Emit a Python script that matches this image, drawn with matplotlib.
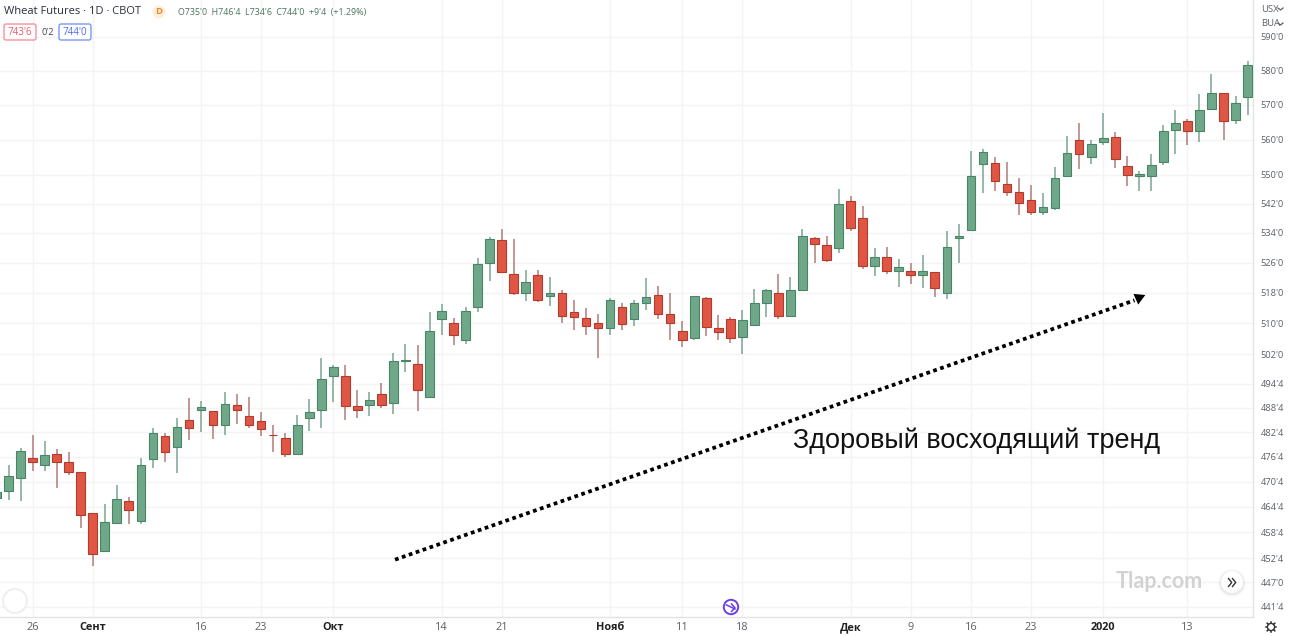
import numpy as np
import matplotlib
matplotlib.use("Agg")
import matplotlib.pyplot as plt
from matplotlib.patches import Circle, FancyBboxPatch
from matplotlib.ticker import NullLocator

plt.rcParams["font.family"] = ["Open Sans", "DejaVu Sans"]

# Daily wheat futures, quoted in cents per bushel
opens = [466.6, 468.2, 471.3, 476.1, 474.5, 477.3, 475.2, 472.9, 463.1, 454.1,
         460.7, 466.0, 461.2, 475.9, 481.6, 479.0, 485.6, 488.0, 487.7, 484.3,
         489.2, 486.6, 485.2, 481.8, 481.1, 477.2, 486.0, 488.0, 496.6, 496.6,
         488.9, 489.2, 492.0, 489.8, 500.3, 499.5, 491.3, 511.0, 510.1, 505.8,
         514.2, 526.0, 532.1, 523.0, 518.0, 522.6, 517.2, 517.9, 513.0, 511.4,
         510.1, 508.8, 514.2, 511.0, 515.4, 517.5, 512.5, 508.1, 506.3, 516.5,
         508.8, 511.0, 506.5, 509.6, 515.3, 518.0, 512.0, 518.8, 532.6, 530.8,
         530.0, 542.8, 538.0, 525.2, 527.5, 523.8, 523.8, 522.8, 523.5, 518.0,
         532.6, 534.9, 553.2, 553.3, 547.6, 545.3, 542.9, 539.6, 540.9, 549.6,
         560.0, 555.0, 559.4, 560.8, 552.5, 549.6, 549.6, 553.7, 562.7, 565.3,
         562.3, 568.9, 573.5, 565.6, 572.1]
highs = [469.3, 474.6, 478.6, 481.8, 480.3, 478.4, 477.6, 472.9, 463.1, 465.2,
         469.7, 466.9, 476.2, 483.5, 482.3, 486.1, 491.0, 490.2, 487.7, 492.45,
         492.1, 491.3, 487.6, 484.3, 482.4, 486.8, 490.7, 501.1, 499.4, 499.2,
         493.1, 492.45, 494.7, 502.3, 504.6, 504.3, 512.9, 515.0, 511.4, 514.2,
         527.1, 532.9, 535.1, 532.4, 523.9, 523.9, 522.2, 518.6, 516.1, 514.1,
         512.3, 516.5, 515.3, 516.1, 521.9, 519.8, 517.9, 510.6, 517.2, 516.8,
         512.1, 511.6, 513.5, 518.9, 519.1, 522.9, 522.1, 535.0, 532.8, 533.3,
         546.2, 544.1, 541.4, 529.8, 530.1, 526.9, 526.0, 528.1, 523.5, 534.4,
         536.4, 556.8, 557.3, 555.1, 553.6, 549.2, 547.2, 544.9, 552.2, 561.0,
         564.7, 559.9, 567.6, 562.1, 555.3, 551.1, 555.8, 564.2, 568.5, 565.9,
         573.1, 579.0, 573.5, 572.5, 582.9]
lows = [466.0, 466.2, 466.0, 473.0, 473.0, 469.0, 472.0, 459.5, 450.7, 454.1,
        460.7, 460.4, 460.4, 473.9, 475.2, 472.7, 480.7, 482.5, 480.8, 481.9,
        484.6, 483.6, 481.5, 477.6, 476.4, 477.2, 482.7, 483.5, 489.9, 485.4,
        486.0, 486.6, 488.6, 487.0, 497.5, 487.7, 491.0, 506.9, 504.4, 504.7,
        513.0, 521.0, 523.2, 517.5, 515.8, 515.5, 514.6, 510.2, 508.3, 507.0,
        501.2, 506.9, 508.3, 509.2, 513.5, 511.1, 505.7, 503.8, 505.6, 506.6,
        505.7, 505.0, 502.0, 509.4, 511.7, 511.1, 511.6, 518.8, 525.8, 526.1,
        528.7, 534.5, 524.4, 522.3, 522.9, 519.4, 520.4, 519.3, 516.8, 516.4,
        525.9, 534.9, 545.0, 545.4, 544.0, 538.8, 538.8, 538.8, 540.3, 549.4,
        551.7, 553.1, 558.4, 551.8, 546.9, 545.6, 545.4, 552.8, 555.8, 558.4,
        559.4, 568.4, 560.0, 564.3, 566.9]
closes = [468.1, 471.8, 477.9, 475.2, 476.9, 475.2, 472.9, 462.5, 453.6, 460.9,
          466.4, 463.8, 474.5, 482.3, 477.6, 483.8, 483.5, 488.8, 484.3, 489.5,
          488.0, 484.3, 483.2, 481.7, 477.3, 484.3, 487.4, 495.8, 498.9, 489.1,
          488.0, 490.6, 489.3, 500.3, 500.6, 493.1, 508.1, 513.1, 507.0, 513.3,
          525.6, 532.3, 523.5, 518.0, 520.8, 516.0, 517.9, 511.8, 511.6, 509.4,
          508.8, 516.1, 509.7, 515.3, 516.8, 512.5, 510.2, 505.8, 517.1, 509.0,
          507.7, 506.1, 510.8, 515.3, 518.8, 512.0, 518.8, 533.1, 530.9, 526.8,
          541.9, 535.3, 525.2, 527.5, 523.8, 524.7, 522.8, 523.8, 519.3, 530.3,
          533.1, 549.7, 556.4, 548.2, 545.3, 542.3, 539.6, 541.1, 549.1, 556.2,
          556.0, 558.8, 560.4, 554.6, 550.1, 550.3, 552.7, 562.4, 564.6, 562.3,
          568.4, 573.4, 565.3, 570.5, 581.6]

price_ticks = [590, 580, 570, 560, 550, 542, 534, 526, 518, 510, 502,
               494.5, 488.5, 482.5, 476.5, 470.5, 464.5, 458.5, 452.5, 447, 441.5]
price_labels = ["590'0", "580'0", "570'0", "560'0", "550'0", "542'0", "534'0",
                "526'0", "518'0", "510'0", "502'0", "494'4", "488'4", "482'4",
                "476'4", "470'4", "464'4", "458'4", "452'4", "447'0", "441'4"]

# Candle index of each date label on the time axis
date_ticks = [3, 8, 17, 22, 28, 37, 42, 51, 57, 62, 71, 76, 81, 86, 92, 99]
date_labels = ["26", "Сент", "16", "23", "Окт", "14", "21", "Нояб",
               "11", "18", "Дек", "9", "16", "23", "2020", "13"]
period_starts = {"Сент", "Окт", "Нояб", "Дек", "2020"}

UP_BODY, UP_EDGE, UP_WICK = "#6FA888", "#4A8466", "#7BA490"
DOWN_BODY, DOWN_EDGE, DOWN_WICK = "#DF5744", "#B53A2E", "#B07C78"
GRID = "#F4F4F5"
AXIS = "#E2E4E6"
LABEL = "#5C6166"
W, H = 1290, 637

opens, highs, lows, closes = map(np.array, (opens, highs, lows, closes))
index = np.arange(len(opens))
rising = closes >= opens

fig = plt.figure(figsize=(W / 100, H / 100), dpi=100, facecolor="white")
ax = fig.add_axes([0, 20 / H, 1253 / W, 617 / H])

ax.set_yscale("log")
ax.set_ylim(439.2, 601.2)
ax.set_xlim(0.293, 104.45)

ax.yaxis.set_major_locator(plt.FixedLocator(price_ticks))
ax.yaxis.set_minor_locator(NullLocator())
ax.set_yticklabels(price_labels)
ax.yaxis.tick_right()
ax.tick_params(axis="y", length=0, pad=5.5, labelsize=6.7, labelcolor=LABEL)

ax.set_xticks(date_ticks)
ax.set_xticklabels(date_labels)
ax.tick_params(axis="x", length=0, pad=9.5, labelsize=7.8, labelcolor=LABEL)
for tick_label in ax.get_xticklabels():
    tick_label.set_verticalalignment("baseline")
    if tick_label.get_text() in period_starts:
        tick_label.set_fontweight("bold")
        tick_label.set_color("#222222")

ax.grid(True, color=GRID, lw=1.0)
ax.set_axisbelow(True)
for side in ("top", "left"):
    ax.spines[side].set_visible(False)
for side in ("right", "bottom"):
    ax.spines[side].set_color(AXIS)
    ax.spines[side].set_linewidth(1.0)

# Candles: wicks first, then the bodies on top
ax.vlines(index, lows, highs, colors=np.where(rising, UP_WICK, DOWN_WICK),
          linewidth=1.1, zorder=2)
ax.bar(index, np.abs(closes - opens), bottom=np.minimum(opens, closes), width=0.72,
       color=np.where(rising, UP_BODY, DOWN_BODY),
       edgecolor=np.where(rising, UP_EDGE, DOWN_EDGE), linewidth=0.8, zorder=3)

# Hand-drawn trend arrow, anchored to time and price
arrow_x = [33.13, 94.6]
arrow_y = [452.2, 516.0]
ax.plot(arrow_x, arrow_y, color="black", lw=2.7, ls=(0, (1, 0.95)),
        dash_capstyle="butt", zorder=5)
ax.annotate("", xy=(95.5, 517.4), xytext=(94.3, 515.7),
            arrowprops=dict(arrowstyle="-|>,head_width=0.42,head_length=0.75",
                            color="black", lw=0, shrinkA=0, shrinkB=0), zorder=6)

# Overlay measured in pixels for the terminal's interface elements
ui = fig.add_axes([0, 0, 1, 1], facecolor="none")
ui.set_xlim(0, W)
ui.set_ylim(H, 0)
ui.axis("off")

ui.text(793, 441, "Здоровый восходящий тренд", family="Liberation Sans", fontsize=19.45,
        color="#111111", va="center", ha="left")

ui.text(4, 12, "Wheat Futures · 1D · CBOT", fontsize=8.05, color="#2A2E39", va="center")
ui.add_patch(Circle((159, 12), 6.5, fc="#FDEFDD", ec="none"))
ui.text(159, 12, "D", fontsize=6.8, fontweight="bold", color="#F08A24", ha="center", va="center")
ui.text(178, 13, "O735'0  H746'4  L734'6  C744'0  +9'4  (+1.29%)", fontsize=6.4,
        color="#4C7361", va="center")

ui.add_patch(FancyBboxPatch((5, 25), 30, 14, boxstyle="round,pad=1,rounding_size=2",
                            fc="white", ec="#F4848E", lw=0.9))
ui.text(20, 32.5, "743'6", fontsize=7.0, color="#EF5A66", ha="center", va="center")
ui.text(47.5, 32.5, "0'2", fontsize=6.6, color="#444444", ha="center", va="center")
ui.add_patch(FancyBboxPatch((60, 25), 30, 14, boxstyle="round,pad=1,rounding_size=2",
                            fc="white", ec="#6E8DF0", lw=0.9))
ui.text(75, 32.5, "744'0", fontsize=7.0, color="#4A6CF0", ha="center", va="center")

ui.text(1261, 9, "USX", fontsize=6.8, color=LABEL, va="center")
ui.text(1261, 24, "BUA", fontsize=6.8, color=LABEL, va="center")
for y in (9, 24):
    ui.plot([1278, 1280.5, 1283], [y - 1, y + 1, y - 1], color=LABEL, lw=0.9)

# Faint logo placeholder in the lower-left corner
ui.add_patch(Circle((15, 601), 12, fc="white", ec="#EFEFEF", lw=1.4))

ui.text(1159, 581, "Tlap.com", family="Lato", fontsize=15.5, fontweight="bold",
        color="#D2D2D2", ha="center", va="center")

# Scroll-to-latest button with a soft shadow
for radius, alpha in ((14, 0.05), (13, 0.07), (12, 0.10)):
    ui.add_patch(Circle((1232, 583), radius, fc="#9A9A9A", ec="none", alpha=alpha))
ui.add_patch(Circle((1232, 582), 11, fc="white", ec="none"))
for dx in (-3.5, 0.5):
    ui.plot([1232 + dx, 1232 + dx + 3.2, 1232 + dx], [578.5, 582.5, 586.5],
            color="#333333", lw=1.0)

# Replay marker on the time axis
ui.add_patch(Circle((731, 607), 7.2, fc="white", ec="#6A3FE8", lw=1.4))
ui.plot([726.5, 735], [605, 609], color="#6A3FE8", lw=1.1)
ui.plot([731.5, 735, 731.5], [604, 607.8, 611.5], color="#6A3FE8", lw=1.1)

# Settings gear in the corner
ui.add_patch(Circle((1271, 627), 3.6, fc="white", ec="#333333", lw=1.0))
for a in np.deg2rad(np.arange(0, 360, 45)):
    ui.plot([1271 + 3.6 * np.cos(a), 1271 + 5.4 * np.cos(a)],
            [627 + 3.6 * np.sin(a), 627 + 5.4 * np.sin(a)], color="#333333", lw=1.1)

fig.savefig("out.png", dpi=100, facecolor="white")
